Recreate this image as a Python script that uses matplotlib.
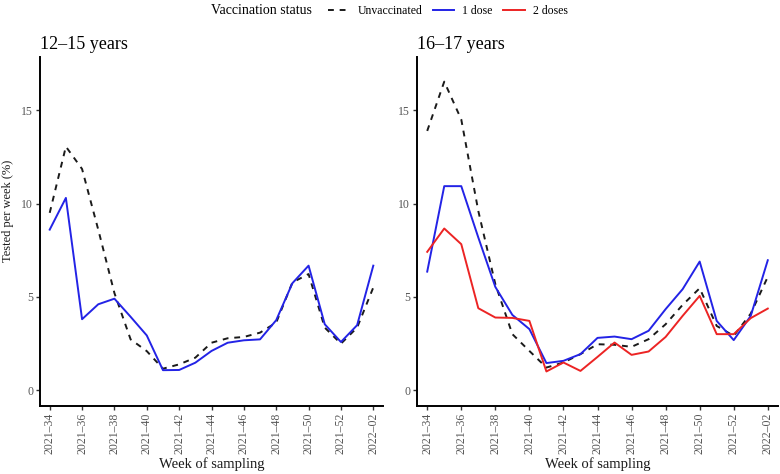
import matplotlib.pyplot as plt
from matplotlib.lines import Line2D

weeks = ['2021–%d' % w for w in range(34, 53)] + ['2022–01', '2022–02']
tick_weeks = weeks[::2]

# 12-15 years
young_unvacc = [9.5, 13.05, 11.85, 8.6, 5.2, 2.72, 2.09, 1.15, 1.38, 1.74, 2.54,
                2.78, 2.85, 3.08, 3.62, 5.77, 6.22, 3.35, 2.49, 3.35, 5.5]
young_dose1 = [8.6, 10.3, 3.8, 4.6, 4.9, 3.93, 2.93, 1.07, 1.08, 1.47, 2.1,
               2.54, 2.67, 2.72, 3.75, 5.73, 6.67, 3.53, 2.58, 3.48, 6.67]

# 16-17 years
old_unvacc = [13.89, 16.53, 14.5, 9.6, 5.68, 3.0, 2.1, 1.21, 1.48, 1.93, 2.46,
              2.43, 2.32, 2.73, 3.53, 4.57, 5.46, 3.44, 2.91, 4.1, 6.07]
old_dose1 = [6.35, 10.93, 10.93, 8.18, 5.53, 4.03, 3.27, 1.45, 1.57, 1.93, 2.8,
             2.87, 2.73, 3.18, 4.34, 5.41, 6.89, 3.71, 2.68, 3.98, 6.96]
old_dose2 = [7.41, 8.66, 7.82, 4.39, 3.89, 3.87, 3.71, 1.0, 1.48, 1.03, 1.78,
             2.55, 1.89, 2.07, 2.85, 3.98, 5.05, 3.0, 3.0, 3.86, 4.37]

BLUE = '#2323e6'
RED = '#ec2424'

plt.rcParams['font.family'] = ['Liberation Serif', 'DejaVu Serif']


def draw_panel(ax, title, unvacc, dose1, dose2=None):
    x = list(range(len(weeks)))
    ax.plot(x, unvacc, color='#1a1a1a', lw=1.4, dashes=(3, 3))
    ax.plot(x, dose1, color=BLUE, lw=1.4)
    if dose2 is not None:
        ax.plot(x, dose2, color=RED, lw=1.4)

    ax.set_xlim(-0.6, 20.6)
    ax.set_ylim(-0.85, 17.85)
    ax.set_xticks(x[::2])
    ax.set_xticklabels(tick_weeks, rotation=90)
    ax.set_yticks([0, 5, 10, 15])
    for side in ['top', 'right']:
        ax.spines[side].set_visible(False)
    for side in ['left', 'bottom']:
        ax.spines[side].set_linewidth(1.4)
    ax.tick_params(length=3, width=1.0, color='#333333',
                   labelcolor='#555555', labelsize=8.5, pad=2)
    ax.set_title(title, loc='left', fontsize=13, pad=6)
    ax.set_xlabel('Week of sampling', fontsize=10.5, labelpad=2, color='#1a1a1a')


fig = plt.figure(figsize=(7.8, 4.74), dpi=100)
ax1 = fig.add_axes([40 / 780, 68 / 474, 343 / 780, 349 / 474])
ax2 = fig.add_axes([417 / 780, 68 / 474, 361 / 780, 349 / 474])

draw_panel(ax1, '12–15 years', young_unvacc, young_dose1)
draw_panel(ax2, '16–17 years', old_unvacc, old_dose1, old_dose2)

fig.text(8 / 780, 1 - 211 / 474, 'Tested per week (%)', rotation=90,
         ha='center', va='center', fontsize=9, color='#1a1a1a')

fig.text(211 / 780, 1 - 11 / 474, 'Vaccination status', fontsize=10,
         va='center', ha='left')
handles = [Line2D([], [], color='#1a1a1a', lw=1.4, dashes=(3, 3)),
           Line2D([], [], color=BLUE, lw=1.4),
           Line2D([], [], color=RED, lw=1.4)]
fig.legend(handles, ['Unvaccinated', '1 dose', '2 doses'], ncol=3,
           loc='center left', bbox_to_anchor=(328 / 780, 1 - 11 / 474),
           frameon=False, fontsize=8.5, handlelength=1.8, handletextpad=0.7,
           columnspacing=0.9, borderaxespad=0, borderpad=0)

fig.savefig('out.png', dpi=100)
